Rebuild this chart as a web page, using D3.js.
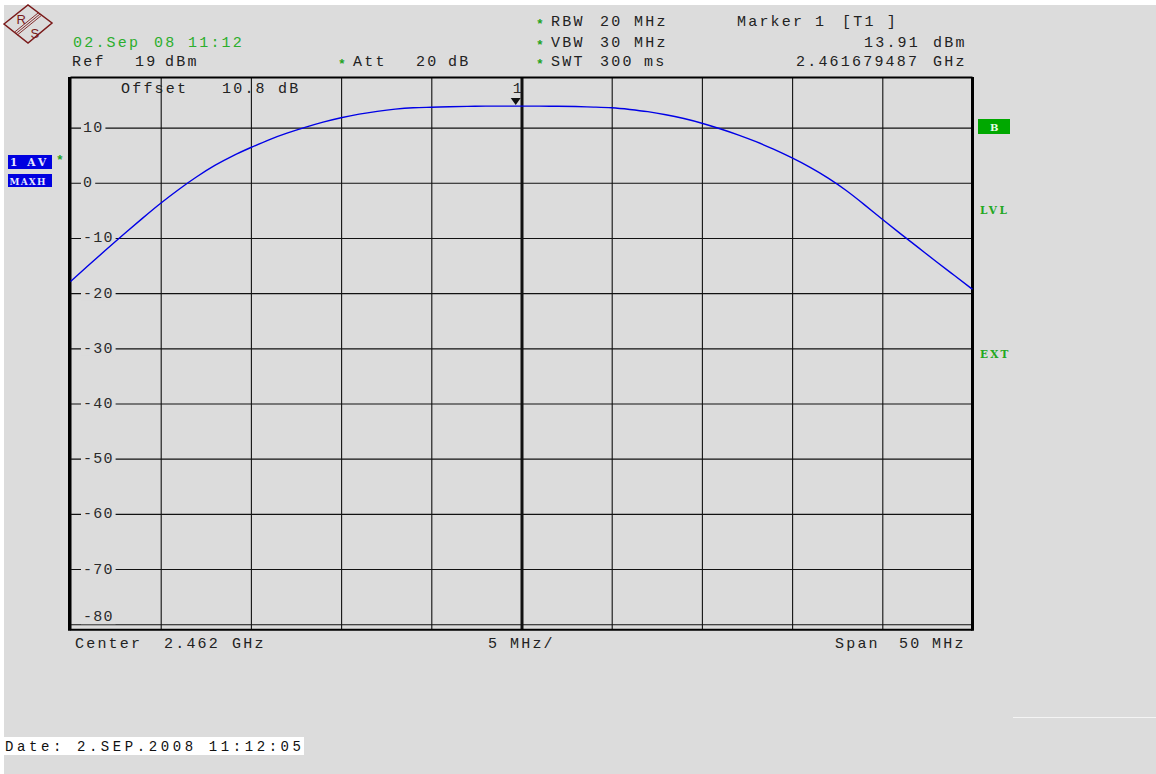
<!DOCTYPE html>
<html>
<head>
<meta charset="utf-8">
<script src="https://cdn.jsdelivr.net/npm/d3@7"></script>
<style>
  body { margin: 0; background: #dcdcdc; }
  svg text { font-family: "Liberation Mono", "Courier New", monospace; }
</style>
</head>
<body>
<div id="chart"></div>
<script>
// trace, 1 MHz steps over the 50 MHz span
const traceFreq = [
  2437, 2438, 2439, 2440, 2441, 2442, 2443, 2444, 2445, 2446,
  2447, 2448, 2449, 2450, 2451, 2452, 2453, 2454, 2455, 2456,
  2457, 2458, 2459, 2460, 2461, 2462, 2463, 2464, 2465, 2466,
  2467, 2468, 2469, 2470, 2471, 2472, 2473, 2474, 2475, 2476,
  2477, 2478, 2479, 2480, 2481, 2482, 2483, 2484, 2485, 2486, 2487
];
const traceLevel = [
  -17.9, -14.95, -12.05, -9.2, -6.4, -3.7, -1.2, 1.1, 3.15, 4.9,
  6.4, 7.8, 9.0, 10.05, 11.0, 11.8, 12.45, 12.95, 13.35, 13.6,
  13.7, 13.8, 13.85, 13.9, 13.9, 13.9, 13.9, 13.88, 13.83, 13.73,
  13.6, 13.3, 12.9, 12.35, 11.65, 10.8, 9.8, 8.7, 7.45, 6.05,
  4.5, 2.8, 0.85, -1.4, -3.95, -6.6, -9.2, -11.75, -14.3, -16.8, -19.3
];
const levelTicks = [10, 0, -10, -20, -30, -40, -50, -60, -70, -80];
const freqGrid = [2437, 2442, 2447, 2452, 2457, 2462, 2467, 2472, 2477, 2482, 2487];
const refLevel = 19;
const bottomLevel = -81;
const centerFreq = 2462;
const markerFreq = 2461.679487;
const markerLevel = 13.91;

const W = 1156, H = 774;
const plotL = 70.5, plotR = 972.5, plotT = 78, plotB = 629.7;

const svg = d3.select('#chart').append('svg')
  .attr('width', W).attr('height', H)
  .attr('viewBox', `0 0 ${W} ${H}`)
  .style('display', 'block');

// page background and white edges
svg.append('rect').attr('width', W).attr('height', H).attr('fill', '#dcdcdc');
svg.append('rect').attr('width', W).attr('height', 5).attr('fill', '#fff');
svg.append('rect').attr('width', 4).attr('height', H).attr('fill', '#fff');
svg.append('line').attr('x1', 1013).attr('x2', W).attr('y1', 717.5).attr('y2', 717.5)
  .attr('stroke', '#f4f4f4').attr('stroke-width', 1);

const x = d3.scaleLinear().domain([freqGrid[0], freqGrid[freqGrid.length - 1]]).range([plotL, plotR]);
const y = d3.scaleLinear().domain([refLevel, bottomLevel]).range([plotT, plotB]);

const plot = svg.append('g');

// vertical grid
plot.append('g')
  .attr('transform', `translate(0,${plotB})`)
  .call(d3.axisBottom(x).tickValues(freqGrid).tickSize(-(plotB - plotT)).tickFormat(''))
  .call(g => g.select('.domain').remove())
  .call(g => g.selectAll('.tick line')
    .attr('stroke', '#111')
    .attr('stroke-width', d => d === centerFreq ? 3 : 1.1));

// horizontal grid
plot.append('g')
  .attr('transform', `translate(${plotL},0)`)
  .call(d3.axisRight(y).tickValues(levelTicks).tickSize(plotR - plotL).tickFormat(''))
  .call(g => g.select('.domain').remove())
  .call(g => g.selectAll('.tick line').attr('stroke', '#111').attr('stroke-width', 1.1));

// frame
plot.append('line').attr('x1', plotL - 1).attr('x2', plotL - 1).attr('y1', plotT - 1).attr('y2', plotB + 1)
  .attr('stroke', '#000').attr('stroke-width', 3);
plot.append('line').attr('x1', plotR).attr('x2', plotR).attr('y1', plotT - 1).attr('y2', plotB + 1)
  .attr('stroke', '#000').attr('stroke-width', 3);
plot.append('line').attr('x1', plotL).attr('x2', plotR).attr('y1', plotT - 0.5).attr('y2', plotT - 0.5)
  .attr('stroke', '#000').attr('stroke-width', 2);
plot.append('line').attr('x1', plotL).attr('x2', plotR).attr('y1', plotB).attr('y2', plotB)
  .attr('stroke', '#000').attr('stroke-width', 2);

// level labels, drawn over the grid with a gap
const labelG = plot.append('g');
levelTicks.forEach(v => {
  const last = v === levelTicks[levelTicks.length - 1];
  const t = labelG.append('text')
    .attr('x', 83)
    .attr('y', last ? y(v) - 3 : y(v) + 4.5)
    .attr('font-size', 15)
    .attr('letter-spacing', 1.2)
    .attr('fill', '#2a2a2a')
    .text(v < 0 ? '-' + Math.abs(v) : String(v));
  const b = t.node().getBBox();
  labelG.insert('rect', 'text')
    .attr('x', b.x - 2).attr('y', b.y + 2)
    .attr('width', b.width + 4).attr('height', b.height - 4)
    .attr('fill', '#dcdcdc');
});

// trace
const line = d3.line()
  .x((d, i) => x(traceFreq[i]))
  .y(d => y(d))
  .curve(d3.curveNatural);
plot.append('path')
  .attr('d', line(traceLevel))
  .attr('fill', 'none')
  .attr('stroke', '#0000e6')
  .attr('stroke-width', 1.4);

// marker 1
const mx = x(markerFreq), my = y(markerLevel);
plot.append('path')
  .attr('d', `M${mx - 5},${my - 8}L${mx + 5},${my - 8}L${mx},${my - 1}Z`)
  .attr('fill', '#111');
plot.append('text').attr('x', mx - 3).attr('y', my - 13).attr('font-size', 15).attr('fill', '#2a2a2a').text('1');

// texts
const dark = '#222', green = '#2cae2c';
function txt(s, tx, ty, color, opts = {}) {
  const t = svg.append('text')
    .attr('x', tx).attr('y', ty)
    .attr('font-size', opts.size || 15)
    .attr('letter-spacing', opts.ls !== undefined ? opts.ls : 2.2)
    .attr('font-weight', opts.weight || 'normal')
    .attr('fill', color)
    .text(s);
  if (opts.family) t.style('font-family', opts.family);
  return t;
}
function star(tx, ty) {
  return txt('*', tx, ty + 2, '#1fa31f', { size: 13, ls: 0, weight: 'bold' });
}

// header
star(536, 26); txt('RBW', 551, 26, dark); txt('20', 600, 26, dark); txt('MHz', 634, 26, dark);
txt('Marker', 737, 26, dark); txt('1', 815, 26, dark); txt('[T1 ]', 842, 26, dark);

txt('02.Sep', 73, 47, green); txt('08', 154, 47, green); txt('11:12', 188, 47, green);
star(536, 47); txt('VBW', 551, 47, dark); txt('30', 600, 47, dark); txt('MHz', 634, 47, dark);
txt('13.91', 864, 47, dark); txt('dBm', 933, 47, dark);

txt('Ref', 72, 66, dark); txt('19', 135, 66, dark); txt('dBm', 165, 66, dark);
star(338, 66); txt('Att', 353, 66, dark); txt('20', 416, 66, dark); txt('dB', 448, 66, dark);
star(536, 66); txt('SWT', 551, 66, dark); txt('300', 600, 66, dark); txt('ms', 644, 66, dark);
txt('2.461679487', 796, 66, dark); txt('GHz', 933, 66, dark);

txt('Offset', 121, 93, dark); txt('10.8', 222, 93, dark); txt('dB', 278, 93, dark);

// footer of the grid
txt('Center', 75, 648, dark); txt('2.462', 164, 648, dark); txt('GHz', 232, 648, dark);
txt('5', 488, 648, dark); txt('MHz/', 510, 648, dark);
txt('Span', 835, 648, dark); txt('50', 899, 648, dark); txt('MHz', 932, 648, dark);

// trace info boxes, left
const blue = '#0000e0';
const serifBold = '"DejaVu Serif", "Liberation Serif", serif';
svg.append('rect').attr('x', 8).attr('y', 155).attr('width', 44).attr('height', 14).attr('fill', blue);
svg.append('rect').attr('x', 8).attr('y', 174).attr('width', 44).attr('height', 13).attr('fill', blue);
txt('1 AV', 10, 166, '#e6e6ff', { size: 10.5, ls: 3.2, weight: 'bold', family: serifBold });
txt('MAXH', 9.5, 184.5, '#e6e6ff', { size: 9, ls: 1.2, weight: 'bold', family: serifBold });
star(56, 162);

// right side indicators
svg.append('rect').attr('x', 978).attr('y', 119).attr('width', 32).attr('height', 15).attr('fill', '#00a800');
txt('B', 990, 131, '#e6ffe6', { size: 10, ls: 0, weight: 'bold', family: serifBold });
txt('LVL', 980, 214, '#22a822', { size: 10.5, ls: 2.6, weight: 'bold', family: serifBold });
txt('EXT', 980, 358, '#22a822', { size: 10.5, ls: 2.2, weight: 'bold', family: serifBold });

// logo
const logo = svg.append('g').attr('stroke', '#7a1a1a').attr('fill', 'none');
logo.append('path').attr('d', 'M4,24L28,5L52,23L28,43Z').attr('stroke-width', 1.5);
[-2, 0, 2].forEach(o => {
  logo.append('line')
    .attr('x1', 16 + o * 0.6).attr('y1', 33.5 + o * 0.8)
    .attr('x2', 40 + o * 0.6).attr('y2', 14 + o * 0.8)
    .attr('stroke-width', 0.9);
});
svg.append('text').attr('x', 16.5).attr('y', 23.5).attr('font-size', 13)
  .style('font-family', '"Liberation Sans", sans-serif').attr('fill', '#7a1a1a').text('R');
svg.append('text').attr('x', 30.5).attr('y', 37.5).attr('font-size', 13)
  .style('font-family', '"Liberation Sans", sans-serif').attr('fill', '#7a1a1a').text('S');

// date stamp
svg.append('rect').attr('x', 4).attr('y', 737).attr('width', 300).attr('height', 18).attr('fill', '#fff');
svg.append('text').attr('x', 5).attr('y', 751)
  .attr('font-size', 14)
  .attr('textLength', 296).attr('lengthAdjust', 'spacing')
  .style('font-family', '"Liberation Mono", "Courier New", monospace')
  .attr('fill', '#111')
  .text('Date: 2.SEP.2008  11:12:05');
</script>
</body>
</html>
